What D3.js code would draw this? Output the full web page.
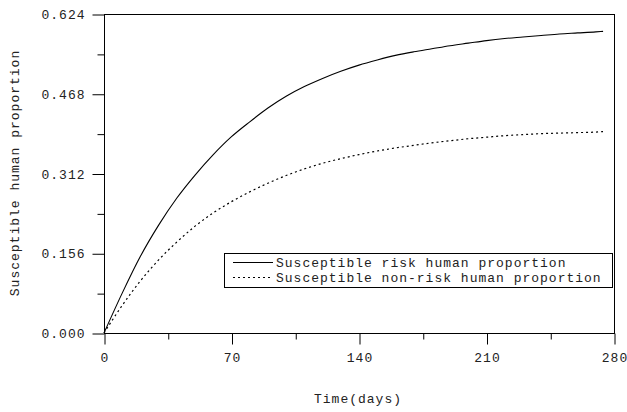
<!DOCTYPE html>
<html>
<head>
<meta charset="utf-8">
<script src="https://cdn.jsdelivr.net/npm/d3@7"></script>
<style>
  body { margin: 0; background: #fff; }
  text { font-family: "Liberation Mono", "DejaVu Sans Mono", monospace; font-size: 13px; fill: #222; letter-spacing: 1px; }
</style>
</head>
<body>
<script>
// time points (days)
var days = [0, 10, 20, 30, 40, 50, 60, 70, 80, 90, 100, 110, 120, 130, 140, 150,
  160, 170, 180, 190, 200, 210, 220, 230, 240, 250, 260, 270, 274];
// susceptible risk human proportion
var riskValues = [0.000, 0.078, 0.150, 0.211, 0.264, 0.309, 0.349, 0.384, 0.413, 0.440,
  0.463, 0.482, 0.498, 0.512, 0.524, 0.534, 0.543, 0.550, 0.556, 0.562,
  0.567, 0.572, 0.576, 0.579, 0.582, 0.585, 0.587, 0.589, 0.590];
// susceptible non-risk human proportion
var nonRiskValues = [0.000, 0.054, 0.102, 0.143, 0.178, 0.209, 0.235, 0.257, 0.276, 0.293,
  0.308, 0.321, 0.332, 0.341, 0.349, 0.356, 0.362, 0.367, 0.372, 0.376,
  0.380, 0.383, 0.386, 0.388, 0.390, 0.391, 0.392, 0.393, 0.394];
var xTicks = [0, 70, 140, 210, 280];
var xMinor = [35, 105, 175, 245];
var yTicks = [0, 0.156, 0.312, 0.468, 0.624];
var yMinor = [0.078, 0.234, 0.390, 0.546];
var seriesNames = ["Susceptible risk human proportion", "Susceptible non-risk human proportion"];

var WIDTH = 627, HEIGHT = 412;
var plotLeft = 104, plotRight = 614, plotTop = 14, plotBottom = 333;

var svg = d3.select("body").append("svg")
  .attr("width", WIDTH)
  .attr("height", HEIGHT);

var x = d3.scaleLinear().domain([0, 280]).range([plotLeft, plotRight]);
var y = d3.scaleLinear().domain([0, 0.624]).range([plotBottom, plotTop]);

// frame
svg.append("rect")
  .attr("x", plotLeft + 0.5).attr("y", plotTop + 0.5)
  .attr("width", plotRight - plotLeft).attr("height", plotBottom - plotTop)
  .attr("fill", "none").attr("stroke", "#000");

function styleAxis(g) {
  g.select(".domain").remove();
  g.selectAll("line").attr("stroke", "#000");
}

// x axis
svg.append("g")
  .attr("transform", "translate(0.5," + (plotBottom + 0.5) + ")")
  .call(d3.axisBottom(x).tickValues(xTicks).tickSize(11).tickPadding(6).tickFormat(d3.format("d")))
  .call(styleAxis)
  .selectAll("text").attr("font-family", null).attr("font-size", null).attr("fill", null)
  .attr("dy", "0.9em");

svg.append("g")
  .attr("transform", "translate(0.5," + (plotBottom + 0.5) + ")")
  .call(d3.axisBottom(x).tickValues(xMinor).tickSize(6).tickFormat(""))
  .call(styleAxis);

// y axis
svg.append("g")
  .attr("transform", "translate(" + (plotLeft + 0.5) + ",0.5)")
  .call(d3.axisLeft(y).tickValues(yTicks).tickSize(12).tickPadding(7).tickFormat(d3.format(".3f")))
  .call(styleAxis)
  .selectAll("text").attr("font-family", null).attr("font-size", null).attr("fill", null);

svg.append("g")
  .attr("transform", "translate(" + (plotLeft + 0.5) + ",0.5)")
  .call(d3.axisLeft(y).tickValues(yMinor).tickSize(7).tickFormat(""))
  .call(styleAxis);

// curves
var line = d3.line()
  .x((d, i) => x(days[i]))
  .y(d => y(d))
  .curve(d3.curveMonotoneX);

svg.append("path")
  .datum(riskValues)
  .attr("d", line)
  .attr("fill", "none")
  .attr("stroke", "#000")
  .attr("stroke-width", 1.1);

svg.append("path")
  .datum(nonRiskValues)
  .attr("d", line)
  .attr("fill", "none")
  .attr("stroke", "#000")
  .attr("stroke-width", 1.2)
  .attr("stroke-dasharray", "2,3");

// legend
var legend = svg.append("g");
legend.append("rect")
  .attr("x", 224.5).attr("y", 253.5)
  .attr("width", 388).attr("height", 34)
  .attr("fill", "#fff").attr("stroke", "#000");

seriesNames.forEach(function(name, i) {
  var yy = 262.5 + i * 15;
  legend.append("line")
    .attr("x1", 233).attr("x2", 273)
    .attr("y1", yy).attr("y2", yy)
    .attr("stroke", "#000")
    .attr("stroke-dasharray", i === 0 ? null : "2,3");
  legend.append("text")
    .attr("x", 276)
    .attr("y", yy + 4.5)
    .text(name);
});

// axis titles
svg.append("text")
  .attr("x", 358)
  .attr("y", 403)
  .attr("text-anchor", "middle")
  .text("Time(days)");

svg.append("text")
  .attr("transform", "translate(19,173) rotate(-90)")
  .attr("text-anchor", "middle")
  .text("Susceptible human proportion");
</script>
</body>
</html>
